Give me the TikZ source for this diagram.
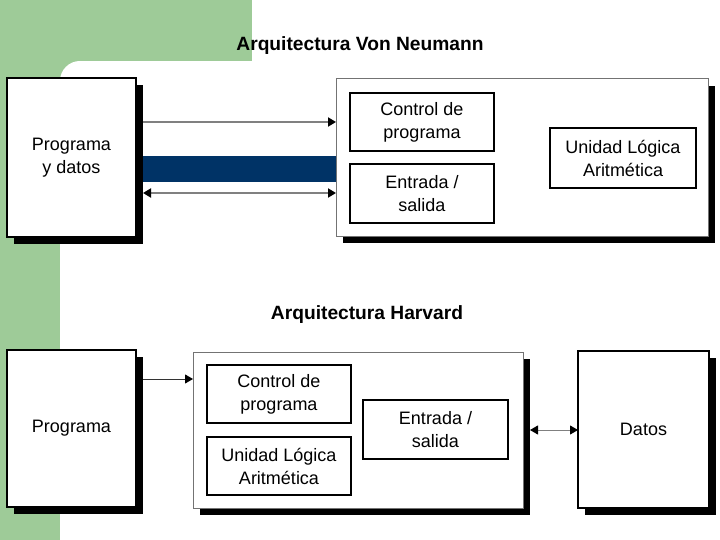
\documentclass[tikz,border=0pt]{standalone}
\usepackage{fontspec}
\setmainfont{Liberation Sans}
\usetikzlibrary{arrows.meta,shadows}
\definecolor{bggreen}{RGB}{158,203,152}
\definecolor{bandblue}{RGB}{0,51,102}
\begin{document}
\begin{tikzpicture}[x=1pt,y=-1pt,
  outerbox/.style={draw=black,line width=2pt,fill=white,inner sep=0pt,outer sep=0pt,
    align=center,font=\fontsize{18}{23}\selectfont,
    drop shadow={shadow xshift=7pt,shadow yshift=-7pt,opacity=1,fill=black}},
  bigbox/.style={draw=black!55,line width=1pt,fill=white,inner sep=0pt,outer sep=0pt,
    drop shadow={shadow xshift=7pt,shadow yshift=-7pt,opacity=1,fill=black}},
  innerbox/.style={draw=black,line width=2.3pt,fill=white,inner sep=0pt,outer sep=0pt,
    align=center,font=\fontsize{18}{23}\selectfont},
  title/.style={font=\bfseries\fontsize{19.2}{22}\selectfont,inner sep=0pt},
  grayarrow/.style={draw=black!50,line width=1.8pt,-{Triangle[length=8pt,width=9pt,fill=black,color=black]}},
  thinarrow/.style={draw=black!80,line width=1pt,-{Triangle[length=8pt,width=9pt,fill=black,color=black]}},
]
\useasboundingbox (0,0) rectangle (720,540);
\fill[white] (0,0) rectangle (720,540);
% green background
\fill[bggreen] (0,0) rectangle (252,61);
\fill[bggreen] (0,0) rectangle (60,540);
\fill[bggreen] (60,61) rectangle (80,81);
\fill[white] (80,81) circle[radius=20];

% ---------- Von Neumann ----------
\node[title] (t1) at (360,46) {Arquitectura Von Neumann};
\node[outerbox,minimum width=129pt,minimum height=159pt] (pd) at (71.5,157.5) {Programa\\y datos};
\node[bigbox,minimum width=372pt,minimum height=157pt] (vn) at (522,157.5) {};
\node[innerbox,minimum width=144pt,minimum height=58pt] (vnc) at (422,122) {Control de\\programa};
\node[innerbox,minimum width=144pt,minimum height=59pt] (vne) at (422,193.5) {Entrada /\\salida};
\node[innerbox,minimum width=146pt,minimum height=60pt] (vnu) at (623,158) {Unidad Lógica\\Aritmética};

\draw[grayarrow] ([xshift=7pt]pd.east |- vnc.west) -- (vn.west |- vnc.west);
\draw[line width=26pt,draw=bandblue] ([xshift=7pt]pd.east |- 0,169) -- (vn.west |- 0,169);
\draw[grayarrow,{Triangle[length=8pt,width=9pt,fill=black,color=black]}-{Triangle[length=8pt,width=9pt,fill=black,color=black]}]
  ([xshift=7pt]pd.east |- 0,193) -- (vn.west |- 0,193);

% ---------- Harvard ----------
\node[title] (t2) at (367,315) {Arquitectura Harvard};
\node[outerbox,minimum width=129pt,minimum height=157pt] (pr) at (71.5,428.5) {\raisebox{-3pt}{Programa}};
\node[bigbox,minimum width=330pt,minimum height=156pt] (hb) at (358,430) {};
\node[innerbox,minimum width=144pt,minimum height=58pt] (hc) at (279,394) {Control de\\programa};
\node[innerbox,minimum width=144pt,minimum height=58pt] (hu) at (279,466) {Unidad Lógica\\Aritmética};
\node[innerbox,minimum width=145pt,minimum height=59pt] (he) at (435.5,429.5) {Entrada /\\salida};
\node[outerbox,minimum width=131pt,minimum height=157pt] (da) at (643.5,429.5) {Datos};

\draw[thinarrow] ([xshift=7pt]pr.east |- 0,379) -- (hb.west |- 0,379);
\draw[thinarrow,draw=black!50,{Triangle[length=8pt,width=9pt,fill=black,color=black]}-{Triangle[length=8pt,width=9pt,fill=black,color=black]}]
  ([xshift=7pt]hb.east |- 0,430) -- (da.west |- 0,430);
\end{tikzpicture}
\end{document}
